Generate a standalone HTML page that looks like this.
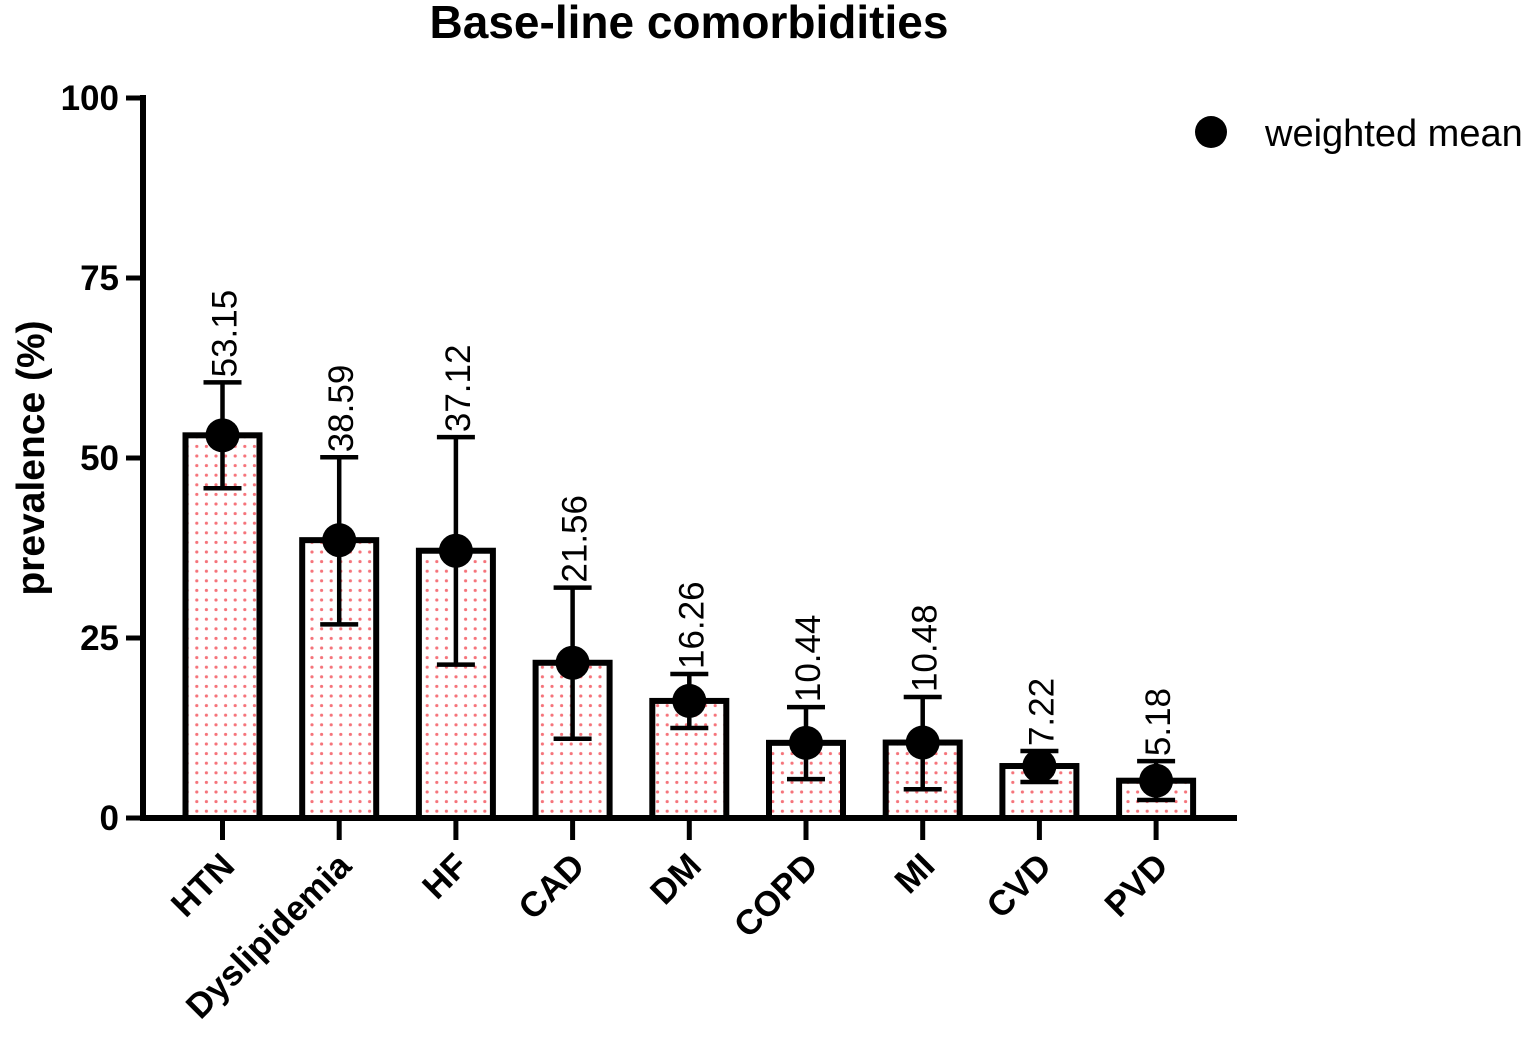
<!DOCTYPE html>
<html><head><meta charset="utf-8"><style>
body{margin:0;background:#fff}
svg{display:block;font-family:"Liberation Sans",Arial,sans-serif}
</style></head><body>
<svg id="chart" width="1535" height="1038" viewBox="0 0 1535 1038" xmlns="http://www.w3.org/2000/svg">
<defs>
<pattern id="dots" width="9.6" height="9.6" patternUnits="userSpaceOnUse">
<circle cx="4.8" cy="4.8" r="1.6" fill="#f5737a"/>
</pattern>
</defs>
<text x="689" y="38" font-size="46" font-weight="bold" text-anchor="middle">Base-line comorbidities</text>
<text transform="translate(44,458) rotate(-90)" font-size="39" font-weight="bold" text-anchor="middle">prevalence (%)</text>
<g id="legend">
<circle cx="1211" cy="132" r="16" fill="#000"/>
<text x="1265" y="146" font-size="38">weighted mean</text>
</g>
<g id="plot"></g>
</svg>
<script>
const categories=["HTN","Dyslipidemia","HF","CAD","DM","COPD","MI","CVD","PVD"];
const means=[53.15,38.59,37.12,21.56,16.26,10.44,10.48,7.22,5.18];
const upper=[60.5,50.1,52.9,32,20,15.4,16.8,9.3,7.9];
const lower=[45.8,26.9,21.3,11,12.5,5.4,4,5,2.5];
const yTicks=[0,25,50,75,100];
const NS="http://www.w3.org/2000/svg";
const g=document.getElementById('plot');
const x0=143,x1=1237,y0=818,yTop=98;
const step=116.7,first=222.5,bw=74;
const y=v=>y0-(v/100)*(y0-yTop);
const x=i=>first+i*step;
function mk(t,a,p){const e=document.createElementNS(NS,t);for(const k in a)e.setAttribute(k,a[k]);(p||g).appendChild(e);return e;}
categories.forEach((c,i)=>{
 const cx=x(i);
 const r=mk('rect',{x:cx-bw/2,y:y(means[i]),width:bw,height:y0-y(means[i]),fill:'url(#dots)',stroke:'#000','stroke-width':6});
 
 
 const eb=mk('path',{d:`M${cx},${y(upper[i])}V${y(lower[i])}M${cx-19},${y(upper[i])}H${cx+19}M${cx-19},${y(lower[i])}H${cx+19}`,stroke:'#000','stroke-width':4.5,fill:'none'});
 
 
 const m=mk('circle',{cx:cx,cy:y(means[i]),r:17,fill:'#000'});
 
 
 const lbl=mk('text',{transform:`translate(${cx+14},${y(upper[i])-5}) rotate(-90)`,'font-size':35});
 lbl.textContent=means[i].toFixed(2);
 
 
 const tk=mk('line',{x1:cx,x2:cx,y1:y0,y2:y0+22,stroke:'#000','stroke-width':5});
 
 
 const xl=mk('text',{transform:`translate(${cx+14},${y0+50}) rotate(-45)`,'font-size':35,'font-weight':'bold','text-anchor':'end'});
 xl.textContent=c;
 
 
});
const ax=mk('path',{d:`M${x0},${yTop-3}V${y0}H${x1}`,stroke:'#000','stroke-width':6,fill:'none'});


yTicks.forEach(v=>{
 const t=mk('line',{x1:x0-17,x2:x0,y1:y(v),y2:y(v),stroke:'#000','stroke-width':5});
 
 
 const l=mk('text',{x:x0-24,y:y(v)+12,'font-size':35,'font-weight':'bold','text-anchor':'end'});
 l.textContent=v;
 
 
});
</script>
</body></html>
